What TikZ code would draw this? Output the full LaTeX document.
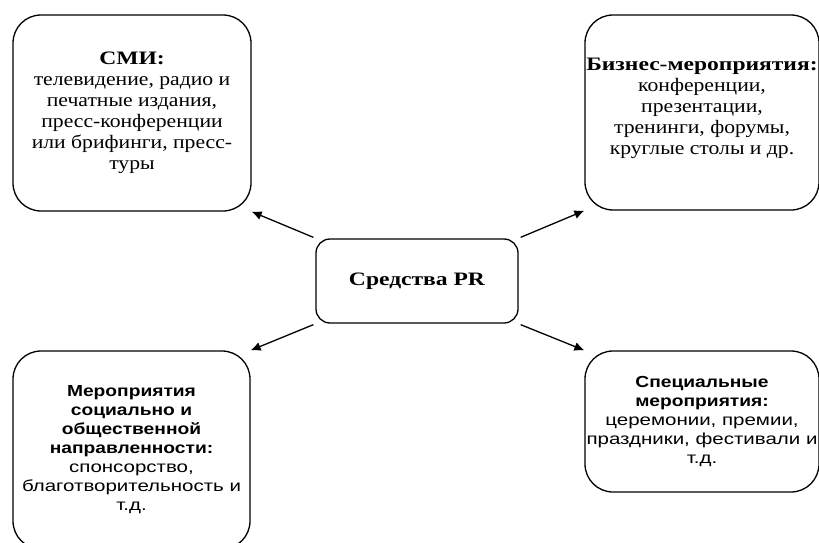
\documentclass[tikz,border=0pt]{standalone}
\usepackage{fontspec}
\setmainfont{Liberation Serif}[FakeStretch=1.14, BoldFeatures={FakeStretch=1.24}]
\setsansfont{Liberation Sans}[FakeStretch=1.28, BoldFeatures={FakeStretch=1.2}]
\usetikzlibrary{arrows.meta}
\begin{document}
\begin{tikzpicture}[x=1pt,y=-1pt,
  box/.style={draw, line width=1.3pt, rounded corners=28pt, inner sep=0pt, align=center},
  serifbox/.style={box, font=\fontsize{19}{21}\selectfont},
  sansbox/.style={box, font=\sffamily\fontsize{16}{19}\selectfont},
  link/.style={line width=1.3pt, -{Latex[length=10pt,width=9pt]}}]
\useasboundingbox (0,0) rectangle (819,543);
\clip (0,0) rectangle (819,543);
\fill[white] (0,0) rectangle (819,543);

\node[serifbox, minimum width=238pt, minimum height=196pt] (smi) at (132,113)
  {\textbf{СМИ:}\\телевидение, радио и\\печатные издания,\\пресс-конференции\\или брифинги, пресс-\\туры};
\node[serifbox, minimum width=234pt, minimum height=195pt] (biz) at (702,112.5)
  {\textbf{Бизнес-мероприятия:}\\конференции,\\презентации,\\тренинги, форумы,\\круглые столы и др.\rule[-12pt]{0pt}{0pt}};
\node[box, rounded corners=14pt, minimum width=202pt, minimum height=84pt,
  font=\fontsize{19}{21}\selectfont\bfseries] (pr) at (417,281) {Средства PR};
\node[sansbox, minimum width=237pt, minimum height=198pt] (soc) at (131.5,450)
  {\textbf{Мероприятия}\\\textbf{социально и}\\\textbf{общественной}\\\textbf{направленности:}\\спонсорство,\\благотворительность и\\т.д.};
\node[sansbox, minimum width=234pt, minimum height=141pt] (spec) at (702,421.5)
  {\textbf{Специальные}\\\textbf{мероприятия:}\\церемонии, премии,\\праздники, фестивали и\\т.д.};

\draw[link] ([xshift=-2pt,yshift=1pt]pr.north west) -- (smi.south east);
\draw[link] ([xshift=2pt,yshift=1pt]pr.north east) -- (biz.south west);
\draw[link] ([xshift=-2pt,yshift=-1pt]pr.south west) -- (soc.north east);
\draw[link] ([xshift=2pt,yshift=-1pt]pr.south east) -- (spec.north west);
\end{tikzpicture}
\end{document}
